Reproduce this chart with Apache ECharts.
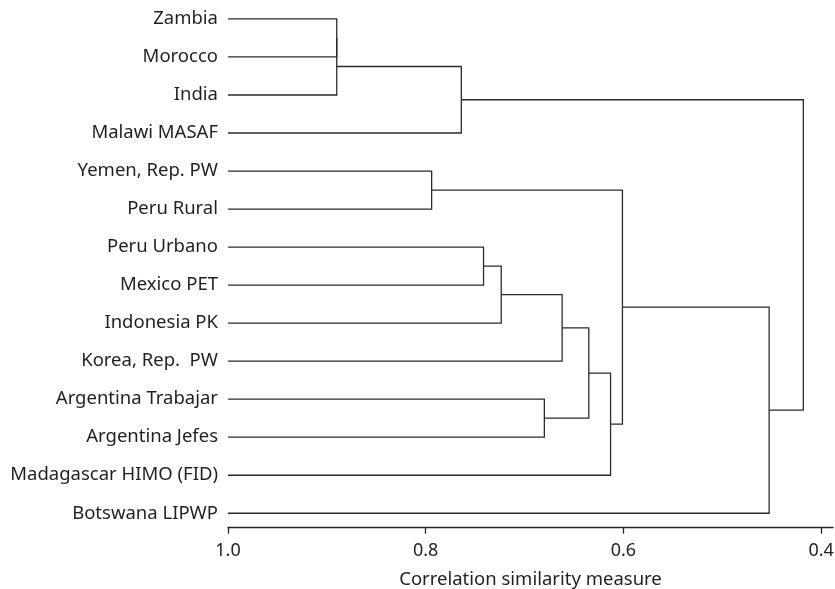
<!DOCTYPE html>
<html>
<head>
<meta charset="utf-8">
<script src="https://cdn.jsdelivr.net/npm/echarts@6/dist/echarts.min.js"></script>
<style>
  html, body { margin: 0; padding: 0; background: #fff; }
  #chart { width: 835px; height: 589px; }
</style>
</head>
<body>
<div id="chart"></div>
<script>
// leaves, top to bottom
var leaves = [
  "Zambia", "Morocco", "India", "Malawi MASAF", "Yemen, Rep. PW", "Peru Rural",
  "Peru Urbano", "Mexico PET", "Indonesia PK", "Korea, Rep.  PW",
  "Argentina Trabajar", "Argentina Jefes", "Madagascar HIMO (FID)", "Botswana LIPWP"
];
// merges: node ids 0-13 are leaves, 14+ are the merged clusters in this order
var mergeLeft = [0, 14, 15, 4, 6, 18, 19, 10, 20, 22, 17, 24, 16];
var mergeRight = [1, 2, 3, 5, 7, 8, 9, 11, 21, 12, 23, 13, 25];
var mergeHeight = [0.890, 0.890, 0.764, 0.794, 0.7415, 0.7236, 0.662, 0.680, 0.635, 0.613, 0.601, 0.4526, 0.418];
var tickValues = [1.0, 0.8, 0.6, 0.4];

var nodeX = [];
var nodeY = [];
leaves.forEach(function (name, i) {
  nodeX.push(1.0);
  nodeY.push(i);
});
var links = [];
mergeHeight.forEach(function (h, k) {
  var a = mergeLeft[k];
  var b = mergeRight[k];
  links.push({
    coords: [
      [nodeX[a], nodeY[a]],
      [h, nodeY[a]],
      [h, nodeY[b]],
      [nodeX[b], nodeY[b]],
    ],
  });
  nodeX.push(h);
  nodeY.push((nodeY[a] + nodeY[b]) / 2);
});

var textColor = "#231f20";
var fontFamily = "Noto Sans";

var myChart = echarts.init(document.getElementById("chart"));
var option = {
  animation: false,
  backgroundColor: "#fff",
  grid: {
    left: 228,
    right: 2,
    top: 4.5,
    bottom: 61.3,
    outerBoundsMode: "none",
  },
  xAxis: {
    type: "value",
    inverse: true,
    min: 0.388,
    max: 1.0,
    name: "Correlation similarity measure",
    nameLocation: "middle",
    nameGap: 43,
    nameTextStyle: {
      color: textColor,
      fontSize: 18.5,
      fontFamily: fontFamily,
    },
    splitLine: { show: false },
    axisLine: {
      onZero: false,
      lineStyle: { color: "#222", width: 1.3 },
    },
    axisTick: {
      show: true,
      length: 6,
      customValues: tickValues,
      lineStyle: { color: "#222", width: 1.3 },
    },
    axisLabel: {
      customValues: tickValues,
      margin: 14,
      color: textColor,
      fontSize: 18,
      fontFamily: fontFamily,
      formatter: function (v) {
        return v.toFixed(1);
      },
    },
  },
  yAxis: {
    type: "value",
    inverse: true,
    min: -0.38,
    max: 13.38,
    splitLine: { show: false },
    axisLine: { show: false },
    axisTick: { show: false },
    axisLabel: {
      customValues: leaves.map(function (n, i) {
        return i;
      }),
      margin: 10,
      color: textColor,
      fontSize: 18.5,
      fontFamily: fontFamily,
      formatter: function (v) {
        return leaves[Math.round(v)];
      },
    },
  },
  series: [
    {
      type: "lines",
      coordinateSystem: "cartesian2d",
      polyline: true,
      silent: true,
      lineStyle: {
        color: "#2b2b2b",
        width: 1.3,
        opacity: 1,
      },
      data: links,
    },
  ],
};
myChart.setOption(option);
</script>
</body>
</html>
